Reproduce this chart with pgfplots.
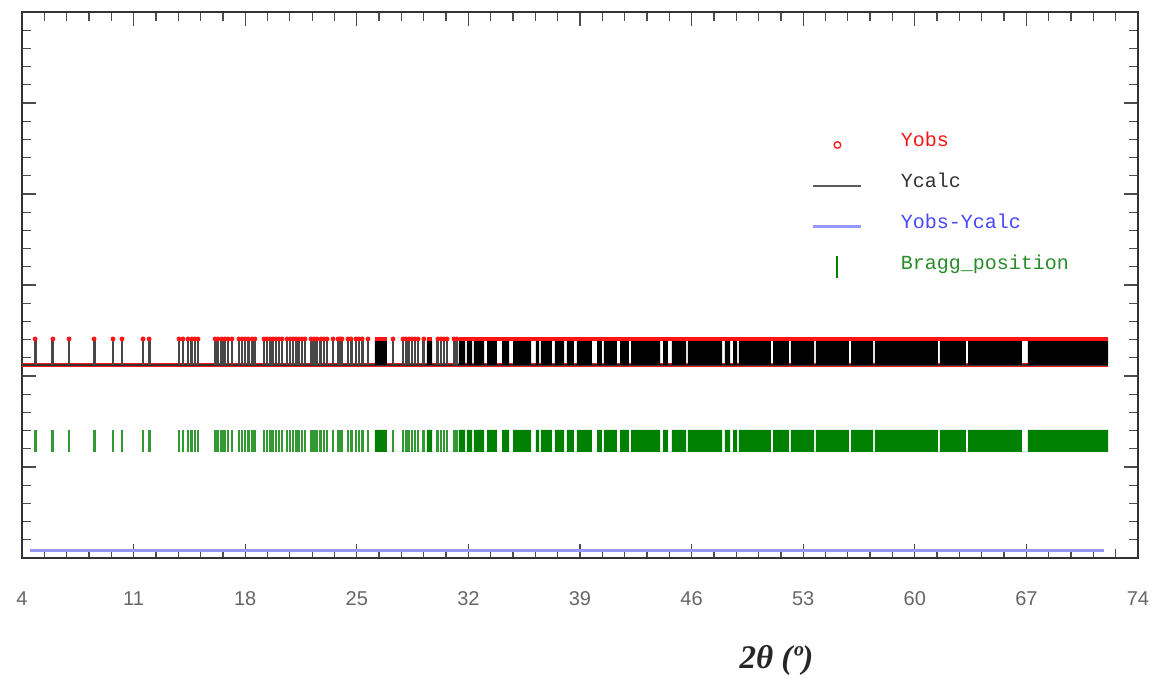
\documentclass[border=0pt]{standalone}
\usepackage{fontspec}
\setmainfont{Liberation Sans}
\newfontfamily\legfont{Liberation Mono}
\newfontfamily\labfont{Liberation Serif}
\usepackage{pgfplots}
\usepackage{pgfplotstable}
\pgfplotsset{compat=1.18}
\definecolor{obsred}{RGB}{255,20,20}
\definecolor{diffblue}{RGB}{150,150,255}
\definecolor{braggreen}{RGB}{0,128,0}
\definecolor{legblue}{RGB}{70,70,255}
\definecolor{leggreen}{RGB}{40,140,40}
\definecolor{leggray}{RGB}{50,50,50}

% Yobs peak tops (sparse part)
\pgfplotstableread{
x     obs
4.82  2.407
5.94  2.407
6.95  2.407
8.52  2.407
9.71  2.407
10.27 2.407
11.59 2.407
11.97 2.407
13.85 2.407
14.10 2.407
14.41 2.407
14.66 2.407
14.85 2.407
15.04 2.407
16.11 2.407
16.29 2.407
16.54 2.407
16.73 2.407
16.92 2.407
17.17 2.407
17.61 2.407
17.80 2.407
17.99 2.407
18.18 2.407
18.43 2.407
18.61 2.407
19.18 2.407
19.37 2.407
19.56 2.407
19.74 2.407
19.93 2.407
20.12 2.407
20.31 2.407
20.62 2.407
20.81 2.407
21.00 2.407
21.19 2.407
21.37 2.407
21.56 2.407
21.75 2.407
22.13 2.407
22.31 2.407
22.50 2.407
22.75 2.407
22.94 2.407
23.13 2.407
23.51 2.407
23.82 2.407
23.95 2.407
24.07 2.407
24.45 2.407
24.64 2.407
24.95 2.407
25.14 2.407
25.33 2.407
25.70 2.407
27.27 2.407
27.90 2.407
28.09 2.407
28.27 2.407
28.46 2.407
28.65 2.407
28.84 2.407
29.21 2.407
30.09 2.407
30.28 2.407
30.47 2.407
30.66 2.407
31.10 2.407
31.28 2.407
}\peaks

% Ycalc spikes and Bragg ticks (sparse part): bottom, top, break
\pgfplotstableread{
x     calc   bragg
4.82  2.121  1.165
4.82  2.395  1.407
4.82  nan    nan
5.94  2.121  1.165
5.94  2.395  1.407
5.94  nan    nan
6.95  2.121  1.165
6.95  2.395  1.407
6.95  nan    nan
8.52  2.121  1.165
8.52  2.395  1.407
8.52  nan    nan
9.71  2.121  1.165
9.71  2.395  1.407
9.71  nan    nan
10.27 2.121  1.165
10.27 2.395  1.407
10.27 nan    nan
11.59 2.121  1.165
11.59 2.395  1.407
11.59 nan    nan
11.97 2.121  1.165
11.97 2.395  1.407
11.97 nan    nan
13.85 2.121  1.165
13.85 2.395  1.407
13.85 nan    nan
14.10 2.121  1.165
14.10 2.395  1.407
14.10 nan    nan
14.41 2.121  1.165
14.41 2.395  1.407
14.41 nan    nan
14.66 2.121  1.165
14.66 2.395  1.407
14.66 nan    nan
14.85 2.121  1.165
14.85 2.395  1.407
14.85 nan    nan
15.04 2.121  1.165
15.04 2.395  1.407
15.04 nan    nan
16.11 2.121  1.165
16.11 2.395  1.407
16.11 nan    nan
16.29 2.121  1.165
16.29 2.395  1.407
16.29 nan    nan
16.54 2.121  1.165
16.54 2.395  1.407
16.54 nan    nan
16.73 2.121  1.165
16.73 2.395  1.407
16.73 nan    nan
16.92 2.121  1.165
16.92 2.395  1.407
16.92 nan    nan
17.17 2.121  1.165
17.17 2.395  1.407
17.17 nan    nan
17.61 2.121  1.165
17.61 2.395  1.407
17.61 nan    nan
17.80 2.121  1.165
17.80 2.395  1.407
17.80 nan    nan
17.99 2.121  1.165
17.99 2.395  1.407
17.99 nan    nan
18.18 2.121  1.165
18.18 2.395  1.407
18.18 nan    nan
18.43 2.121  1.165
18.43 2.395  1.407
18.43 nan    nan
18.61 2.121  1.165
18.61 2.395  1.407
18.61 nan    nan
19.18 2.121  1.165
19.18 2.395  1.407
19.18 nan    nan
19.37 2.121  1.165
19.37 2.395  1.407
19.37 nan    nan
19.56 2.121  1.165
19.56 2.395  1.407
19.56 nan    nan
19.74 2.121  1.165
19.74 2.395  1.407
19.74 nan    nan
19.93 2.121  1.165
19.93 2.395  1.407
19.93 nan    nan
20.12 2.121  1.165
20.12 2.395  1.407
20.12 nan    nan
20.31 2.121  1.165
20.31 2.395  1.407
20.31 nan    nan
20.62 2.121  1.165
20.62 2.395  1.407
20.62 nan    nan
20.81 2.121  1.165
20.81 2.395  1.407
20.81 nan    nan
21.00 2.121  1.165
21.00 2.395  1.407
21.00 nan    nan
21.19 2.121  1.165
21.19 2.395  1.407
21.19 nan    nan
21.37 2.121  1.165
21.37 2.395  1.407
21.37 nan    nan
21.56 2.121  1.165
21.56 2.395  1.407
21.56 nan    nan
21.75 2.121  1.165
21.75 2.395  1.407
21.75 nan    nan
22.13 2.121  1.165
22.13 2.395  1.407
22.13 nan    nan
22.31 2.121  1.165
22.31 2.395  1.407
22.31 nan    nan
22.50 2.121  1.165
22.50 2.395  1.407
22.50 nan    nan
22.75 2.121  1.165
22.75 2.395  1.407
22.75 nan    nan
22.94 2.121  1.165
22.94 2.395  1.407
22.94 nan    nan
23.13 2.121  1.165
23.13 2.395  1.407
23.13 nan    nan
23.51 2.121  1.165
23.51 2.395  1.407
23.51 nan    nan
23.82 2.121  1.165
23.82 2.395  1.407
23.82 nan    nan
23.95 2.121  1.165
23.95 2.395  1.407
23.95 nan    nan
24.07 2.121  1.165
24.07 2.395  1.407
24.07 nan    nan
24.45 2.121  1.165
24.45 2.395  1.407
24.45 nan    nan
24.64 2.121  1.165
24.64 2.395  1.407
24.64 nan    nan
24.95 2.121  1.165
24.95 2.395  1.407
24.95 nan    nan
25.14 2.121  1.165
25.14 2.395  1.407
25.14 nan    nan
25.33 2.121  1.165
25.33 2.395  1.407
25.33 nan    nan
25.70 2.121  1.165
25.70 2.395  1.407
25.70 nan    nan
27.27 2.121  1.165
27.27 2.395  1.407
27.27 nan    nan
27.90 2.121  1.165
27.90 2.395  1.407
27.90 nan    nan
28.09 2.121  1.165
28.09 2.395  1.407
28.09 nan    nan
28.27 2.121  1.165
28.27 2.395  1.407
28.27 nan    nan
28.46 2.121  1.165
28.46 2.395  1.407
28.46 nan    nan
28.65 2.121  1.165
28.65 2.395  1.407
28.65 nan    nan
28.84 2.121  1.165
28.84 2.395  1.407
28.84 nan    nan
29.21 2.121  1.165
29.21 2.395  1.407
29.21 nan    nan
30.09 2.121  1.165
30.09 2.395  1.407
30.09 nan    nan
30.28 2.121  1.165
30.28 2.395  1.407
30.28 nan    nan
30.47 2.121  1.165
30.47 2.395  1.407
30.47 nan    nan
30.66 2.121  1.165
30.66 2.395  1.407
30.66 nan    nan
31.10 2.121  1.165
31.10 2.395  1.407
31.10 nan    nan
31.28 2.121  1.165
31.28 2.395  1.407
31.28 nan    nan
}\spikes

% dense part: blocks of overlapping reflections (const plot outline: bottom/top)
\pgfplotstableread{
x     calc   bragg
26.14 2.121  1.165
26.14 2.395  1.407
26.89 2.121  1.165
29.40 2.395  1.407
29.72 2.121  1.165
31.41 2.395  1.407
31.79 2.121  1.165
31.91 2.395  1.407
32.23 2.121  1.165
32.35 2.395  1.407
32.98 2.121  1.165
33.17 2.395  1.407
33.79 2.121  1.165
34.11 2.395  1.407
34.55 2.121  1.165
34.80 2.395  1.407
35.93 2.121  1.165
36.24 2.395  1.407
36.43 2.121  1.165
36.55 2.395  1.407
37.24 2.121  1.165
37.43 2.395  1.407
38.00 2.121  1.165
38.18 2.395  1.407
38.62 2.121  1.165
38.81 2.395  1.407
39.75 2.121  1.165
40.07 2.395  1.407
40.38 2.121  1.165
40.50 2.395  1.407
41.32 2.121  1.165
41.51 2.395  1.407
42.07 2.121  1.165
42.20 2.395  1.407
44.02 2.121  1.165
44.21 2.395  1.407
44.52 2.121  1.165
44.77 2.395  1.407
45.65 2.121  1.165
45.77 2.395  1.407
47.91 2.121  1.165
48.09 2.395  1.407
48.41 2.121  1.165
48.60 2.395  1.407
48.85 2.121  1.165
48.97 2.395  1.407
50.98 2.121  1.165
51.11 2.395  1.407
52.11 2.121  1.165
52.23 2.395  1.407
53.68 2.121  1.165
53.80 2.395  1.407
55.87 2.121  1.165
56.00 2.395  1.407
57.38 2.121  1.165
57.50 2.395  1.407
61.45 2.121  1.165
61.58 2.395  1.407
63.21 2.121  1.165
63.34 2.395  1.407
66.72 2.121  1.165
67.10 2.395  1.407
72.12 2.121  1.165
}\blocks

\begin{document}
\begin{tikzpicture}
\begin{axis}[
  width=1116pt, height=546pt, scale only axis,
  xmin=4, xmax=74, ymin=0, ymax=6,
  xtick={4,11,...,74}, minor x tick num=4,
  ytick={0,1,...,6}, minor y tick num=4,
  yticklabels={},
  tick align=inside,
  major tick length=14pt, minor tick length=9pt,
  axis line style={black!80, line width=1.8pt},
  tick style={black!70, line width=1.3pt},
  unbounded coords=jump,
  /pgf/number format/assume math mode=true,
  xticklabel style={font=\fontsize{20}{20}\selectfont, text=black!60, yshift=-30pt},
  xlabel={2θ (º)},
  xlabel style={font=\labfont\bfseries\itshape\fontsize{33}{33}\selectfont, text=black!85,
    at={(axis description cs:0.676,-0.187)}, anchor=center},
  legend style={at={(axis cs:53.55,4.692)}, anchor=north west, draw=none, fill=none,
    inner sep=0pt, outer sep=0pt, row sep=21pt,
    font=\legfont\fontsize{20}{20}\selectfont,
    nodes={inner sep=0pt, text height=15pt, text depth=5pt},
    /tikz/every odd column/.append style={column sep=38pt}},
  legend cell align=left,
]
\addlegendimage{legend image code/.code={\path[draw=none,fill=none] (0pt,0pt) -- (48pt,0pt); \draw[obsred, line width=1.3pt] (24pt,-4pt) circle (3.3pt);}}
\addlegendentry{\textcolor{obsred}{Yobs}}
\addlegendimage{legend image code/.code={\draw[leggray!80, line width=2pt] (0pt,-4pt) -- (48pt,-4pt);}}
\addlegendentry{\textcolor{leggray}{Ycalc}}
\addlegendimage{legend image code/.code={\draw[diffblue, line width=3pt] (0pt,-3pt) -- (48pt,-3pt);}}
\addlegendentry{\textcolor{legblue}{Yobs-Ycalc}}
\addlegendimage{legend image code/.code={\path[draw=none,fill=none] (0pt,0pt) -- (48pt,0pt); \draw[braggreen, line width=2pt] (24pt,-14pt) -- (24pt,8pt);}}
\addlegendentry{\textcolor{leggreen}{Bragg\_position}}

% difference curve
\addplot[forget plot, diffblue, line width=3pt] coordinates {(4.5,0.077) (71.9,0.077)};
% Bragg positions
\addplot[forget plot, braggreen!80, line width=2.9pt] table[x=x,y=bragg]{\spikes};
\addplot[forget plot, const plot, fill=braggreen, draw=none] table[x=x,y=bragg]{\blocks};
% Yobs baseline
\addplot[forget plot, obsred, line width=4.5pt] coordinates {(4.0,2.121) (72.12,2.121)};
% Ycalc
\addplot[forget plot, black!80, line width=1.2pt] coordinates {(4.0,2.121) (72.12,2.121)};
\addplot[forget plot, black!72, line width=2.9pt] table[x=x,y=calc]{\spikes};
\addplot[forget plot, const plot, fill=black, draw=none] table[x=x,y=calc]{\blocks};
% Yobs tops
\addplot[forget plot, obsred, line width=4pt] coordinates {(31.41,2.407) (72.12,2.407)};
\addplot[forget plot, obsred, line width=4pt] coordinates {(26.14,2.407) (26.89,2.407)};
\addplot[forget plot, obsred, line width=4pt] coordinates {(29.40,2.407) (29.72,2.407)};
\addplot[forget plot, only marks, mark=*, mark size=2.2pt, mark options={draw=obsred, fill=obsred}] table[x=x,y=obs]{\peaks};
\end{axis}
\path (current axis.south west) ++(-22pt,-119pt) rectangle ++(1160pt,677pt);
\end{tikzpicture}
\end{document}
